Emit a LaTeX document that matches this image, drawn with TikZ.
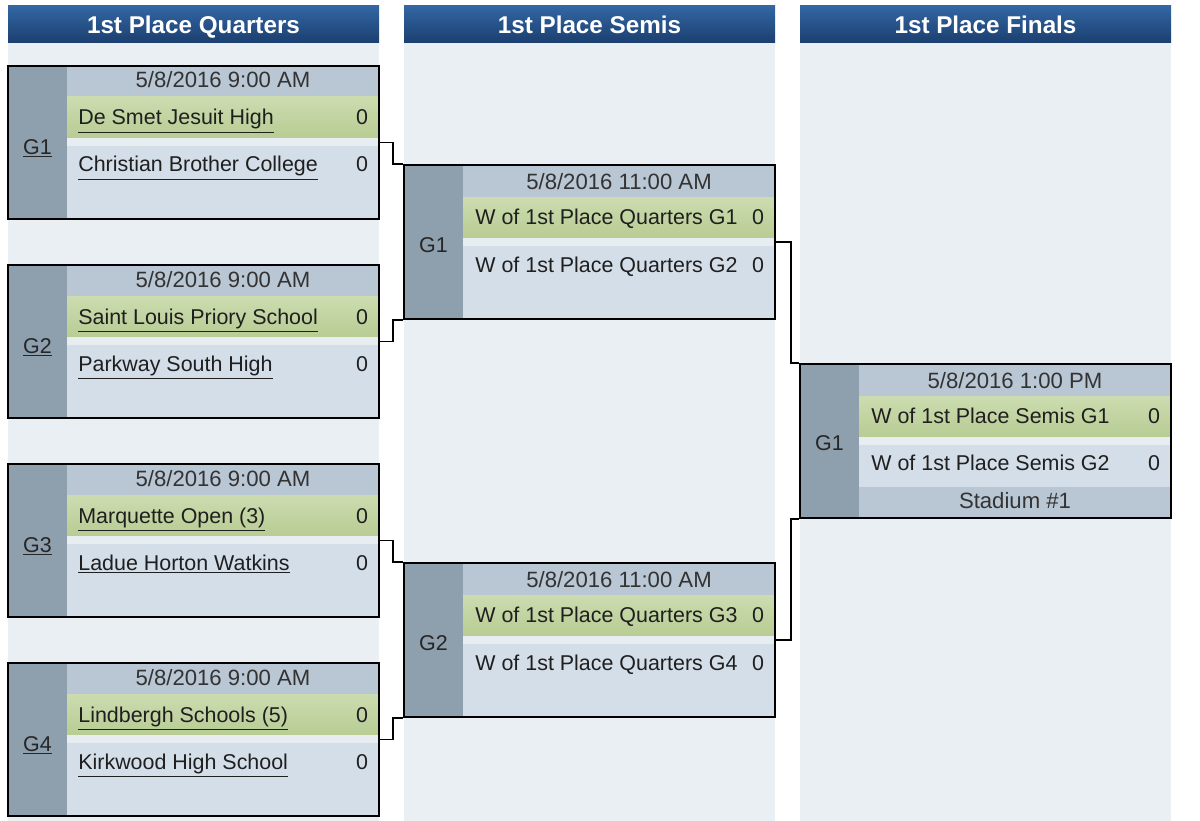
\documentclass[tikz,border=0pt]{standalone}
\usepackage{fontspec}
\setmainfont{Liberation Sans}
\usetikzlibrary{positioning}

\definecolor{panelbg}{HTML}{EAEFF4}
\definecolor{stripc}{HTML}{8E9FAE}
\definecolor{daterow}{HTML}{B9C6D3}
\definecolor{wintop}{HTML}{CCDCB0}
\definecolor{winbot}{HTML}{B8CC93}
\definecolor{gaprow}{HTML}{E8EDF1}
\definecolor{teamrow}{HTML}{D4DEE8}
\definecolor{headtop}{HTML}{3366A3}
\definecolor{headbot}{HTML}{1B3F6F}
\definecolor{datetext}{HTML}{333333}

\begin{document}
\begin{tikzpicture}[x=0.02cm,y=-0.02cm,
  every node/.style={font=\fontsize{12.2}{14}\selectfont,inner sep=0pt},
  head/.style={anchor=base,font=\fontsize{13.8}{16}\selectfont\bfseries,text=white},
  date/.style={anchor=base,font=\fontsize{12.6}{14}\selectfont,text=datetext},
  team/.style={anchor=base west,text=black!88},
  score/.style={anchor=base,text=black!88},
  glabel/.style={anchor=base,text=black!85},
  gbox/.style={draw=black,line width=1.1pt,minimum width=7.42cm,minimum height=3.07cm},
  link/.style={line width=1pt}]

  \useasboundingbox (0,0) rectangle (1200,821);

  % columns and headers
  \foreach \c/\x/\title in {qh/8/1st Place Quarters,sh/404/1st Place Semis,fh/800/1st Place Finals}{
    \fill[panelbg] (\x,43) rectangle ++(371,778);
    \shade[top color=headtop,bottom color=headbot] (\x,6) rectangle ++(371,37);
    \node[head] (\c) at (\x+185.5,34) {\title};
  }

  % quarters
  \foreach \n/\top/\ta/\tb in {1/66/De Smet Jesuit High/Christian Brother College,
      2/265/Saint Louis Priory School/Parkway South High,
      3/464/Marquette Open (3)/Ladue Horton Watkins,
      4/663/Lindbergh Schools (5)/Kirkwood High School}{
    \begin{scope}[shift={(8,\top)}]
      \fill[stripc] (0,0) rectangle (59,153);
      \fill[daterow] (59,0) rectangle (371,31);
      \shade[top color=wintop,bottom color=winbot] (59,31) rectangle (371,72);
      \fill[gaprow] (59,72) rectangle (371,80);
      \fill[teamrow] (59,80) rectangle (371,153);
      \node[date] (qd\n) at (215,22) {5/8/2016 9:00 AM};
      \node[team] (qa\n) at (70,59) {\underline{\ta}};
      \node[score] (qx\n) at (354,59) {0};
      \node[team] (qb\n) at (70,106) {\underline{\tb}};
      \node[score] (qy\n) at (354,106) {0};
      \node[glabel] (qg\n) at (29.5,88) {\underline{G\n}};
      \node[gbox] (q\n) at (185.5,76.5) {};
    \end{scope}
  }

  % semis
  \foreach \n/\top/\ga/\gb in {1/165/1/2,2/563/3/4}{
    \begin{scope}[shift={(404,\top)}]
      \fill[stripc] (0,0) rectangle (59,154);
      \fill[daterow] (59,0) rectangle (371,32);
      \shade[top color=wintop,bottom color=winbot] (59,32) rectangle (371,73);
      \fill[gaprow] (59,73) rectangle (371,81);
      \fill[teamrow] (59,81) rectangle (371,154);
      \node[date] (sd\n) at (215,24) {5/8/2016 11:00 AM};
      \node[team] (sa\n) at (71,59) {W of 1st Place Quarters G\ga};
      \node[score] (sx\n) at (354,59) {0};
      \node[team] (sb\n) at (71,107) {W of 1st Place Quarters G\gb};
      \node[score] (sy\n) at (354,107) {0};
      \node[glabel] (sg\n) at (29.5,87) {G\n};
      \node[gbox] (s\n) at (185.5,77) {};
    \end{scope}
  }

  % final
  \begin{scope}[shift={(800,364)}]
    \fill[stripc] (0,0) rectangle (59,154);
    \fill[daterow] (59,0) rectangle (371,32);
    \shade[top color=wintop,bottom color=winbot] (59,32) rectangle (371,73);
    \fill[gaprow] (59,73) rectangle (371,81);
    \fill[teamrow] (59,81) rectangle (371,123);
    \fill[daterow] (59,123) rectangle (371,154);
    \node[date] (fd1) at (215,24) {5/8/2016 1:00 PM};
    \node[team] (fa1) at (71,59) {W of 1st Place Semis G1};
    \node[score] (fx1) at (354,59) {0};
    \node[team] (fb1) at (71,106) {W of 1st Place Semis G2};
    \node[score] (fy1) at (354,106) {0};
    \node[date] (fs1) at (215,144) {Stadium \#1};
    \node[glabel] (fg1) at (29.5,86) {G1};
    \node[gbox] (f1) at (185.5,77) {};
  \end{scope}

  % links
  \draw[link] (q1.east) -- ++(13,0) |- (s1.north west);
  \draw[link] (q2.east) -- ++(13,0) |- (s1.south west);
  \draw[link] (q3.east) -- ++(13,0) |- (s2.north west);
  \draw[link] (q4.east) -- ++(13,0) |- (s2.south west);
  \draw[link] (s1.east) -- ++(15,0) |- (f1.north west);
  \draw[link] (s2.east) -- ++(15,0) |- (f1.south west);

\end{tikzpicture}
\end{document}
